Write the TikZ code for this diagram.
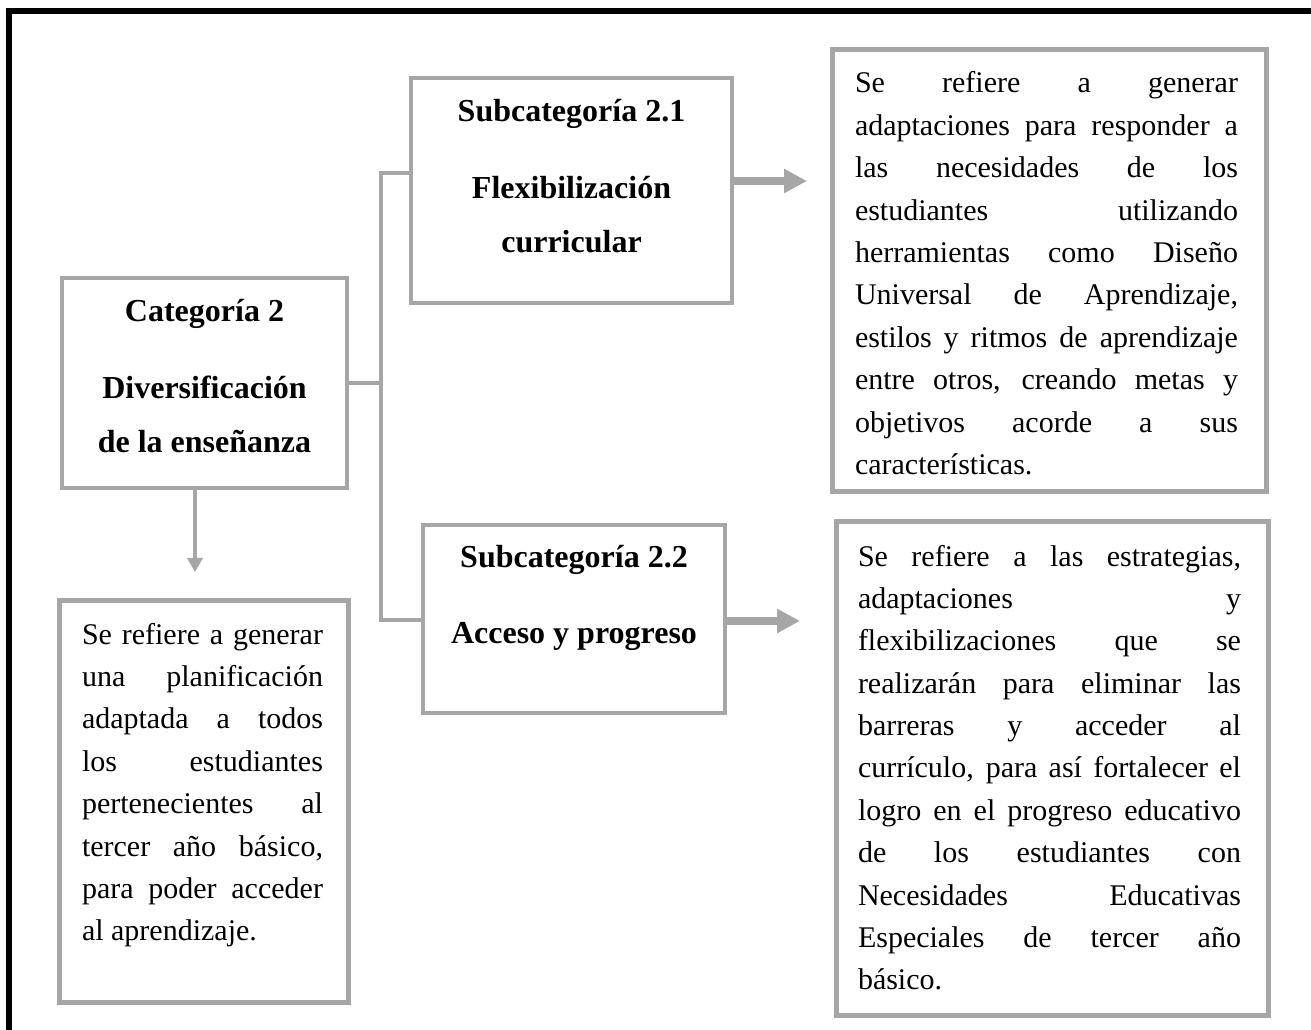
\documentclass[tikz,border=0pt]{standalone}
\usepackage{fontspec}
\setmainfont{Liberation Serif}
\usetikzlibrary{arrows.meta,calc}
\definecolor{boxgray}{HTML}{A6A6A6}
\begin{document}
\begin{tikzpicture}[x=0.75pt,y=-0.75pt,
  hbox/.style={draw=boxgray, line width=2.6pt, inner sep=0pt, outer sep=0pt, rectangle},
  tbox/.style={draw=boxgray, line width=3.75pt, inner sep=0pt, outer sep=0pt, rectangle},
  conn/.style={draw=boxgray, line width=2.6pt},
  bigarr/.style={draw=boxgray, line width=6pt, -{Triangle[length=17.25pt,width=17.25pt]}},
  smallarr/.style={draw=boxgray, line width=3pt, -{Triangle[length=10.5pt,width=11.25pt]}},
  para/.style={inner sep=0pt, outer sep=0pt, font=\fontsize{22.5pt}{31.8pt}\selectfont},
  head/.style={inner sep=0pt, outer sep=0pt, font=\fontsize{24pt}{40.5pt}\selectfont\bfseries},
  frame/.style={draw=black, line width=4.5pt}
]
\useasboundingbox (0,0) rectangle (1311,1030);
\clip (0,0) rectangle (1311,1030);
\draw[frame] (9,1040) -- (9,11) -- (1320,11);

% boxes
\node[hbox, minimum width=213.75pt, minimum height=157.5pt] (cat) at (204.5,383) {};
\node[hbox, minimum width=240.75pt, minimum height=168.75pt] (s21) at (571.5,190.5) {};
\node[hbox, minimum width=226.5pt, minimum height=141pt] (s22) at (574,619) {};
\node[tbox, minimum width=325.5pt, minimum height=331.5pt] (tr) at (1049,271) {};
\node[tbox, minimum width=324pt, minimum height=369.75pt] (br) at (1052,768.5) {};
\node[tbox, minimum width=216.75pt, minimum height=301.5pt] (bl) at (203.5,801) {};

% heading texts
\node[head, anchor=base] (cattext) at (204.5,322) {\parbox[t]{205pt}{\centering Categoría 2\\[17.25pt] Diversificación\\ de la enseñanza}};
\node[head, anchor=base] (s21text) at (571.5,122) {\parbox[t]{225pt}{\centering Subcategoría 2.1\\[17.25pt] Flexibilización\\ curricular}};
\node[head, anchor=base] (s22text) at (574,567) {\parbox[t]{215pt}{\centering Subcategoría 2.2\\[17.25pt] Acceso y progreso}};

% paragraph texts
\node[para, anchor=base west] (trtext) at (855,93) {\parbox[t]{287.25pt}{Se refiere a generar\linebreak
adaptaciones para responder a\linebreak
las necesidades de los\linebreak
estudiantes utilizando\linebreak
herramientas como Diseño\linebreak
Universal de Aprendizaje,\linebreak
estilos y ritmos de aprendizaje\linebreak
entre otros, creando metas y\linebreak
objetivos acorde a sus\linebreak
características.}};

\node[para, anchor=base west] (brtext) at (858,566) {\parbox[t]{287.25pt}{Se refiere a las estrategias,\linebreak
adaptaciones y\linebreak
flexibilizaciones que se\linebreak
realizarán para eliminar las\linebreak
barreras y acceder al\linebreak
currículo, para así fortalecer el\linebreak
logro en el progreso educativo\linebreak
de los estudiantes con\linebreak
Necesidades Educativas\linebreak
Especiales de tercer año\linebreak
básico.}};

\node[para, anchor=base west] (bltext) at (82,644) {\parbox[t]{180.75pt}{Se refiere a generar\linebreak
una planificación\linebreak
adaptada a todos\linebreak
los estudiantes\linebreak
pertenecientes al\linebreak
tercer año básico,\linebreak
para poder acceder\linebreak
al aprendizaje.}};

% connectors
\coordinate (jt) at (381,173);
\coordinate (jb) at (381,620);
\draw[conn] (cat.east) -- (cat.east -| jt);
\draw[conn] (s21.west |- jt) -- (jt) -- (jb) -- (s22.west |- jb);
\draw[bigarr] ($(s21.east)+(0,-9.5)$) -- ++(75,0);
\draw[bigarr] ($(s22.east)+(0,2)$) -- ++(75,0);
\draw[smallarr] ($(cat.south)+(-9.5,0)$) -- ++(0,84);
\end{tikzpicture}
\end{document}
